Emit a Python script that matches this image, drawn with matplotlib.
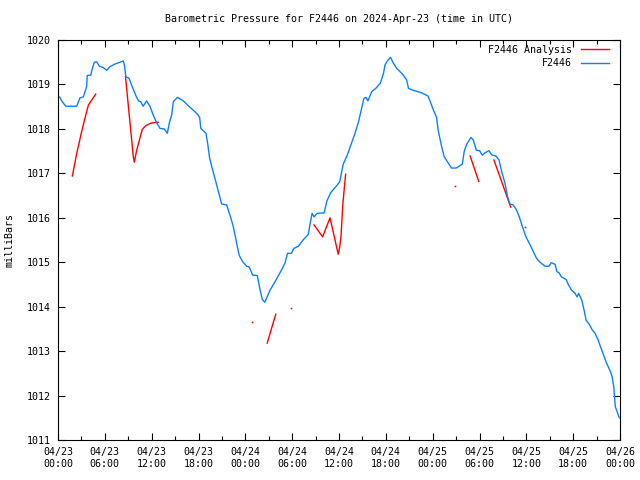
import numpy as np
import matplotlib
matplotlib.use("Agg")
import matplotlib.pyplot as plt

# hours after 2024-04-23 00:00 UTC, pressure in millibars
obs_hours = [
    0.2, 0.55, 1.0, 2.4, 2.82, 3.24, 3.67, 3.75, 4.2, 4.4, 4.65, 4.95, 5.3, 5.8,
    6.23, 6.66, 7.3, 7.94, 8.37, 8.5, 8.7, 9.1, 9.5, 9.95, 10.3, 10.6, 10.9,
    11.36, 11.8, 12.2, 12.6, 13.07, 13.6, 14.0, 14.26, 14.56, 14.77, 15.3, 16.05,
    16.7, 17.46, 17.97, 18.15, 18.3, 18.96, 19.2, 19.4, 19.7, 20.1, 20.5, 20.97,
    21.6, 22.1, 22.46, 22.9, 23.2, 23.66, 24.17, 24.5, 24.94, 25.53, 25.9, 26.2,
    26.5, 27.16, 27.8, 28.4, 29.08, 29.4, 29.9, 30.2, 30.8, 31.4, 32.07, 32.3,
    32.55, 32.8, 33.2, 34.1, 34.45, 34.95, 35.6, 36.1, 36.3, 36.55, 37.06, 37.6,
    38.05, 38.5, 38.8, 39.2, 39.46, 39.7, 40.2, 40.7, 41.3, 41.7, 41.9, 42.2,
    42.6, 42.96, 43.4, 44.15, 44.67, 44.9, 45.5, 46.6, 47.4, 47.7, 48.1, 48.5,
    48.7, 49.15, 49.45, 49.6, 50.0, 50.4, 51.0, 51.4, 51.8, 52.05, 52.35, 52.9,
    53.2, 53.6, 54.0, 54.35, 54.7, 55.2, 55.6, 56.1, 56.5, 56.8, 57.26, 57.6,
    57.9, 58.3, 58.7, 59.1, 59.5, 59.95, 60.4, 60.9, 61.3, 61.75, 62.4, 62.9,
    63.2, 63.7, 63.9, 64.2, 64.5, 65.1, 65.4, 65.8, 66.2, 66.5, 66.7, 67.1,
    67.4, 67.65, 68.1, 68.4, 68.8, 69.2, 69.5, 69.9, 70.3, 70.7, 71.0, 71.2,
    71.4, 71.7, 71.9,
]
obs_mb = [
    1018.72, 1018.61, 1018.51, 1018.51, 1018.70, 1018.72, 1018.95, 1019.20,
    1019.21, 1019.36, 1019.50, 1019.51, 1019.41, 1019.38, 1019.32, 1019.40,
    1019.46, 1019.50, 1019.53, 1019.44, 1019.17, 1019.14, 1018.95, 1018.76,
    1018.63, 1018.61, 1018.51, 1018.63, 1018.50, 1018.31, 1018.15, 1018.01,
    1018.00, 1017.90, 1018.13, 1018.31, 1018.61, 1018.71, 1018.63, 1018.52,
    1018.40, 1018.31, 1018.25, 1018.01, 1017.90, 1017.64, 1017.37, 1017.15,
    1016.89, 1016.62, 1016.31, 1016.29, 1016.02, 1015.80, 1015.42, 1015.16,
    1015.01, 1014.91, 1014.89, 1014.71, 1014.70, 1014.37, 1014.15, 1014.10,
    1014.37, 1014.56, 1014.75, 1014.98, 1015.20, 1015.20, 1015.31, 1015.36,
    1015.50, 1015.63, 1015.87, 1016.10, 1016.02, 1016.10, 1016.11, 1016.38,
    1016.57, 1016.70, 1016.81, 1017.00, 1017.21, 1017.41, 1017.68, 1017.90,
    1018.16, 1018.39, 1018.69, 1018.71, 1018.63, 1018.84, 1018.91, 1019.03,
    1019.25, 1019.44, 1019.53, 1019.61, 1019.48, 1019.36, 1019.23, 1019.10,
    1018.91, 1018.87, 1018.81, 1018.74, 1018.61, 1018.42, 1018.26, 1017.97,
    1017.60, 1017.39, 1017.34, 1017.23, 1017.12, 1017.12, 1017.16, 1017.21,
    1017.50, 1017.65, 1017.81, 1017.75, 1017.52, 1017.51, 1017.41, 1017.46,
    1017.51, 1017.41, 1017.39, 1017.30, 1017.07, 1016.78, 1016.47, 1016.31,
    1016.29, 1016.19, 1016.02, 1015.80, 1015.57, 1015.42, 1015.24, 1015.09,
    1015.00, 1014.91, 1014.91, 1014.99, 1014.95, 1014.79, 1014.76, 1014.67,
    1014.61, 1014.49, 1014.37, 1014.31, 1014.22, 1014.30, 1014.15, 1013.92,
    1013.70, 1013.59, 1013.49, 1013.40, 1013.25, 1013.10, 1012.91, 1012.72,
    1012.57, 1012.42, 1012.20, 1011.75, 1011.60, 1011.50,
]

# analysis series, NaN marks a gap
nan = np.nan
ana_hours = [
    1.84, 2.4, 3.03, 3.67, 3.9, 4.83, nan,
    8.65, 9.65, 9.78, 10.08, 10.8, 11.23, 11.9, 12.85, nan,
    24.9, nan,
    26.8, 27.9, nan,
    29.9, nan,
    32.8, 33.9, 34.85, 35.3, 35.9, 36.1, 36.25, 36.5, 36.85, nan,
    50.86, nan,
    52.8, 53.9, nan,
    55.85, 58.0, nan,
    59.87,
]
ana_mb = [
    1016.94, 1017.45, 1017.94, 1018.39, 1018.54, 1018.78, nan,
    1019.17, 1017.37, 1017.25, 1017.52, 1017.99, 1018.07, 1018.13, 1018.15, nan,
    1013.65, nan,
    1013.18, 1013.83, nan,
    1013.96, nan,
    1015.84, 1015.57, 1016.00, 1015.65, 1015.18, 1015.35, 1015.57, 1016.33, 1016.98, nan,
    1016.71, nan,
    1017.39, 1016.82, nan,
    1017.30, 1016.24, nan,
    1015.79,
]

tick_hours = list(range(0, 73, 6))
tick_labels = [
    "04/23\n00:00", "04/23\n06:00", "04/23\n12:00", "04/23\n18:00",
    "04/24\n00:00", "04/24\n06:00", "04/24\n12:00", "04/24\n18:00",
    "04/25\n00:00", "04/25\n06:00", "04/25\n12:00", "04/25\n18:00",
    "04/26\n00:00",
]

BLUE = "#0a80ff"
RED = "#ff0000"
FONT = "DejaVu Sans Mono"
FS = 7.2

plt.rcParams["font.family"] = FONT
plt.rcParams["font.size"] = FS

fig = plt.figure(figsize=(6.4, 4.8), dpi=100)
ax = fig.add_axes([58 / 640, 40 / 480, 562 / 640, 400 / 480])

ax.plot(ana_hours, ana_mb, color=RED, lw=1.0, label="F2446 Analysis")
# lone analysis values show as single dots
ah = np.array(ana_hours)
am = np.array(ana_mb)
ok = ~np.isnan(am)
prev_ok = np.r_[False, ok[:-1]]
next_ok = np.r_[ok[1:], False]
lone = ok & ~prev_ok & ~next_ok
ax.plot(ah[lone], am[lone], ls="none", marker="s", ms=1.2, mew=0, color=RED)

ax.plot(obs_hours, obs_mb, color=BLUE, lw=1.0, label="F2446")

ax.set_xlim(0, 72)
ax.set_ylim(1011, 1020)
ax.set_xticks(tick_hours)
ax.set_xticklabels(tick_labels)
ax.set_xticks(range(0, 73, 3), minor=True)
ax.set_yticks(range(1011, 1021))
ax.tick_params(which="both", direction="in", top=True, right=True, width=0.8)
ax.tick_params(which="major", length=5, pad=5, labelsize=FS)
ax.tick_params(which="minor", length=3)
for s in ax.spines.values():
    s.set_linewidth(0.8)

ax.legend(loc="upper right", bbox_to_anchor=(0.9875, 0.9975), frameon=False,
          markerfirst=False, handlelength=2.8, handletextpad=0.9,
          labelspacing=0.35, borderaxespad=0, fontsize=FS)

fig.text(339 / 640, 1 - 19 / 480,
         "Barometric Pressure for F2446 on 2024-Apr-23 (time in UTC)",
         ha="center", va="center", fontsize=FS)
fig.text(10 / 640, 0.5, "milliBars", rotation=90, ha="center", va="center",
         fontsize=FS)

fig.savefig("out.png", dpi=100)
